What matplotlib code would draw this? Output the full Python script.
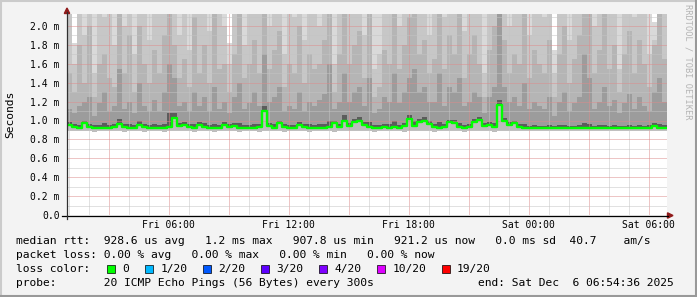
import numpy as np
import matplotlib
matplotlib.use('Agg')
import matplotlib.pyplot as plt
from matplotlib.patches import Polygon, Rectangle
from matplotlib.lines import Line2D

W, H = 697, 297

# 15 minute steps, hours counted from Fri 00:00
t_start = 0.91
t_step = 0.25

# median rtt (ms)
med = [0.95,0.93,0.925,0.975,0.93,0.925,0.92,0.925,0.925,0.93,
       0.96,0.935,0.925,0.925,0.95,0.93,0.925,0.925,0.92,0.925,
       0.93,1.03,0.94,0.955,0.93,0.925,0.95,0.93,0.925,0.92,
       0.925,0.95,0.93,0.945,0.925,0.925,0.92,0.925,0.93,1.10,
       0.94,0.925,0.97,0.93,0.925,0.925,0.95,0.93,0.925,0.92,
       0.925,0.925,0.93,0.97,0.935,1.0,0.94,0.98,1.0,0.95,
       0.93,0.925,0.925,0.93,0.925,0.93,0.925,0.94,1.02,0.94,
       0.98,1.0,0.96,0.93,0.925,0.93,0.98,0.975,0.93,0.925,
       0.93,0.98,1.01,0.94,0.95,0.93,1.16,1.0,0.95,0.97,
       0.93,0.925,0.92,0.92,0.918,0.92,0.92,0.918,0.92,0.92,
       0.92,0.918,0.92,0.922,0.92,0.918,0.92,0.92,0.918,0.92,
       0.92,0.918,0.92,0.92,0.918,0.92,0.922,0.945,0.925,0.92]

# fastest ping of each step
lo = [0.885,0.89,0.885,0.89,0.885,0.88,0.885,0.89,0.885,0.89,
      0.885,0.88,0.885,0.89,0.885,0.88,0.885,0.89,0.885,0.88,
      0.885,0.89,0.885,0.89,0.885,0.88,0.885,0.89,0.885,0.88,
      0.885,0.89,0.885,0.885,0.88,0.885,0.89,0.885,0.88,0.885,
      0.89,0.885,0.885,0.88,0.885,0.89,0.885,0.885,0.88,0.885,
      0.89,0.885,0.885,0.88,0.885,0.89,0.885,0.885,0.89,0.885,
      0.885,0.88,0.885,0.885,0.89,0.885,0.885,0.88,0.885,0.885,
      0.89,0.885,0.885,0.88,0.885,0.885,0.89,0.885,0.885,0.88,
      0.885,0.885,0.89,0.885,0.885,0.88,0.885,0.885,0.89,0.885,
      0.885,0.885,0.89,0.89,0.89,0.89,0.89,0.89,0.89,0.89,
      0.89,0.89,0.89,0.89,0.89,0.89,0.89,0.89,0.89,0.89,
      0.89,0.89,0.89,0.89,0.89,0.89,0.89,0.89,0.89,0.89]

# smoke: upper ping levels (ms), from darkest band to slowest ping
u0 = [0.98,0.96,0.955,1.0,0.96,0.95,0.955,0.97,0.955,0.96,
      1.02,0.965,0.96,0.955,0.99,0.96,0.955,0.96,0.95,0.965,
      1.08,1.08,0.97,0.985,0.96,0.96,0.98,0.97,0.955,0.96,
      0.955,0.98,0.96,0.975,0.97,0.955,0.95,0.965,0.96,1.15,
      0.97,0.96,1.0,0.96,0.955,0.955,0.98,0.96,0.96,0.95,
      0.96,0.96,1.0,1.0,0.965,1.06,0.97,1.02,1.04,0.98,
      0.98,0.955,0.955,0.965,0.96,1.0,0.955,0.97,1.06,1.0,
      1.02,1.04,0.99,0.96,0.98,0.96,1.01,1.01,0.97,0.955,
      0.96,1.02,1.04,0.97,0.98,0.97,1.22,1.03,0.98,1.0,
      0.96,0.96,0.945,0.95,0.945,0.945,0.95,0.94,0.95,0.955,
      0.945,0.945,0.95,0.97,0.96,0.945,0.95,0.955,0.945,0.95,
      0.94,0.945,0.95,0.945,0.95,0.945,0.95,0.975,0.965,0.95]
u1 = [1.12,1.08,1.15,1.2,1.25,1.05,1.18,1.3,1.1,1.15,
      1.55,1.12,1.2,1.08,1.4,1.15,1.1,1.22,1.1,1.3,
      1.6,1.45,1.15,1.2,1.1,1.3,1.15,1.25,1.1,1.35,
      1.12,1.2,1.08,1.25,1.4,1.12,1.18,1.3,1.15,1.7,
      1.2,1.25,1.35,1.1,1.15,1.12,1.3,1.1,1.2,1.15,
      1.22,1.28,1.6,1.12,1.2,1.5,1.2,1.3,1.35,1.15,
      1.45,1.08,1.12,1.25,1.2,1.5,1.18,1.3,1.45,1.55,
      1.3,1.35,1.2,1.2,1.5,1.15,1.35,1.3,1.45,1.15,
      1.2,1.3,1.25,1.08,1.25,1.35,2.4,1.35,1.2,1.25,
      1.15,1.4,1.12,1.2,1.15,1.12,1.25,1.05,1.2,1.3,
      1.1,1.18,1.25,1.7,1.45,1.12,1.2,1.35,1.15,1.22,
      1.08,1.18,1.28,1.12,1.25,1.15,1.1,1.3,1.45,1.2]
u2 = [1.5,1.3,1.8,1.4,2.0,1.25,1.6,1.7,1.45,1.35,
      2.4,1.5,1.9,1.3,2.0,1.6,1.4,1.75,1.5,1.9,
      2.4,1.8,1.45,1.65,1.35,2.1,1.5,1.8,1.4,2.4,
      1.55,1.6,1.3,1.7,2.2,1.45,1.6,1.85,1.5,2.4,
      1.55,1.75,1.95,1.35,1.6,1.5,2.0,1.4,1.7,1.55,
      1.6,1.85,2.4,1.3,1.7,2.4,1.6,1.8,1.95,1.45,
      2.4,1.25,1.35,1.75,1.6,2.4,1.55,1.8,2.1,2.4,
      1.7,1.85,1.5,1.65,2.4,1.55,1.9,1.7,2.4,1.45,
      1.7,1.9,1.6,1.25,1.75,2.0,2.4,1.85,1.5,1.7,
      1.6,2.4,1.45,1.75,1.6,1.5,1.85,1.25,1.7,2.0,
      1.4,1.65,1.9,2.4,2.4,1.5,1.75,2.3,1.55,1.8,
      1.3,1.7,1.95,1.5,1.85,1.6,1.35,1.8,2.4,1.65]
u3 = [2.4,1.6,2.4,1.9,2.4,1.5,2.4,2.1,2.4,1.8,
      2.4,2.0,2.4,1.7,2.4,2.4,1.85,2.4,2.2,2.4,
      2.4,2.4,1.9,2.4,1.75,2.4,2.3,2.4,1.95,2.4,
      2.4,2.0,1.6,2.4,2.4,1.8,2.4,2.2,2.4,2.4,
      2.0,2.4,2.4,1.7,2.4,2.1,2.4,1.85,2.4,2.4,
      2.0,2.4,2.4,1.6,2.4,2.4,2.2,2.4,2.4,1.9,
      2.4,1.55,1.7,2.4,2.4,2.4,2.0,2.4,2.4,2.4,
      2.3,2.4,1.9,2.4,2.4,2.1,2.4,2.4,2.4,1.95,
      2.4,2.4,2.2,1.5,2.4,2.4,2.4,2.4,2.0,2.4,
      2.4,2.4,1.9,2.4,2.4,2.1,2.4,1.5,2.4,2.4,
      1.85,2.4,2.4,2.4,2.4,2.0,2.4,2.4,2.2,2.4,
      1.55,2.4,2.4,2.1,2.4,2.4,1.7,1.85,2.4,2.2]
hi = [2.4,1.82,2.4,2.4,2.4,2.4,2.4,2.4,2.4,2.4,
      2.4,2.4,2.4,2.4,2.4,2.4,2.4,2.4,2.4,2.4,
      2.4,2.4,2.4,2.4,2.4,2.4,2.4,2.4,2.4,2.4,
      2.4,2.4,1.82,2.4,2.4,2.4,2.4,2.4,2.4,2.4,
      2.4,2.4,2.4,2.4,2.4,2.4,2.4,2.4,2.4,2.4,
      2.4,2.4,2.4,2.4,2.4,2.4,2.4,2.4,2.4,2.4,
      2.4,2.4,2.4,2.4,2.4,2.4,2.4,2.4,2.4,2.4,
      2.4,2.4,2.4,2.4,2.4,2.4,2.4,2.4,2.4,2.4,
      2.4,2.4,2.4,2.4,2.4,2.4,2.4,2.4,2.4,2.4,
      2.4,2.4,2.4,2.4,2.4,2.4,2.4,1.75,2.4,2.4,
      2.4,2.4,2.4,2.4,2.4,2.4,2.4,2.4,2.4,2.4,
      2.4,2.4,2.4,2.4,2.4,2.4,2.4,2.04,2.4,2.4]

yticks = [0.0, 0.2, 0.4, 0.6, 0.8, 1.0, 1.2, 1.4, 1.6, 1.8, 2.0]
ylabels = ['0.0', '0.2 m', '0.4 m', '0.6 m', '0.8 m', '1.0 m',
           '1.2 m', '1.4 m', '1.6 m', '1.8 m', '2.0 m']
xticks = [6, 12, 18, 24, 30]
xlabels = ['Fri 06:00', 'Fri 12:00', 'Fri 18:00', 'Sat 00:00', 'Sat 06:00']

legend_lines = [
    'median rtt:  928.6 us avg   1.2 ms max   907.8 us min   921.2 us now   0.0 ms sd  40.7    am/s',
    'packet loss: 0.00 % avg   0.00 % max   0.00 % min   0.00 % now',
    'loss color:',
    'probe:       20 ICMP Echo Pings (56 Bytes) every 300s',
]
end_text = 'end: Sat Dec  6 06:54:36 2025'
loss_labels = ['0', '1/20', '2/20', '3/20', '4/20', '10/20', '19/20']
loss_colors = ['#00ff00', '#00b8ff', '#0059ff', '#5e00ff', '#7e00ff', '#dd00ff', '#ff0000']

mono = 'DejaVu Sans Mono'
plt.rcParams['lines.scale_dashes'] = False


def F(x, y):
    return (x / W, 1 - y / H)


fig = plt.figure(figsize=(W / 100, H / 100), dpi=100, facecolor='#f3f3f3')

# 3d border
fig.add_artist(Line2D([0, 1], [1 - 0.5 / H, 1 - 0.5 / H], color='#cbcbcb', lw=1.5))
fig.add_artist(Line2D([0.5 / W, 0.5 / W], [0, 1], color='#cbcbcb', lw=1.5))
fig.add_artist(Line2D([0, 1], [1 / H, 1 / H], color='#999999', lw=1.5))
fig.add_artist(Line2D([1 - 1 / W, 1 - 1 / W], [0, 1], color='#999999', lw=1.5))

ax = fig.add_axes([67 / W, (H - 215) / H, 600 / W, (215 - 14) / H])
ax.set_facecolor('white')
for s in ax.spines.values():
    s.set_visible(False)

n = len(med)
t = t_start + t_step * np.arange(n + 1)


def ext(v):
    return np.append(v, v[-1])


m = ext(med)
for arr, col in [(hi, '#d9d9d9'), (u3, '#c7c7c7'), (u2, '#b5b5b5'),
                 (u1, '#9c9c9c'), (u0, '#5c5c5c')]:
    ax.fill_between(t, m, ext(arr), step='post', color=col, lw=0, zorder=1)
ax.fill_between(t, ext(lo), m, step='post', color='#bcbcbc', lw=0, zorder=1)

# grid, drawn over the smoke like rrdtool does
for hh in range(1, 31):
    if t_start < hh < t_start + 30:
        col = '#dd8c8c' if hh % 3 == 0 else '#c4c4c4'
        ax.axvline(hh, color=col, lw=0.72, dashes=(0.72, 0.72), snap=True, zorder=2)
for k in range(1, 22):
    col = '#dd8c8c' if k % 2 == 0 else '#c4c4c4'
    ax.axhline(k * 0.1, color=col, lw=0.72, dashes=(0.72, 0.72), snap=True, zorder=2)

ax.plot(t, m, drawstyle='steps-post', color='#00ff00', lw=1.7, zorder=3)

ax.set_xlim(t_start, t_start + 30)
ax.set_ylim(0, (215 - 14) / 94.5)
ax.set_yticks(yticks)
ax.set_yticklabels(ylabels, fontfamily=mono, fontsize=7)
ax.set_xticks(xticks)
ax.set_xticklabels(xlabels, fontfamily=mono, fontsize=7)
ax.tick_params(axis='y', length=0, pad=5.2)
ax.tick_params(axis='x', length=0, pad=3.4)

# axes with arrows
fig.add_artist(Line2D([62 / W, 668 / W], [F(0, 215.5)[1]] * 2, color='black', lw=0.9))
fig.add_artist(Line2D([F(67, 0)[0]] * 2, [F(0, 219)[1], F(0, 12)[1]], color='#303030', lw=0.9))
fig.add_artist(Polygon([F(64.3, 13.5), F(69.7, 13.5), F(67, 8)], closed=True,
                       color='#901a1a', transform=fig.transFigure))
fig.add_artist(Polygon([F(667.5, 212.8), F(667.5, 218.2), F(673, 215.5)], closed=True,
                       color='#901a1a', transform=fig.transFigure))

fig.text(*F(10.5, 114), 'Seconds', rotation=90, ha='center', va='center',
         fontfamily=mono, fontsize=8.1)
fig.text(*F(688, 4), 'RRDTOOL / TOBI OETIKER', rotation=270, ha='center', va='top',
         fontfamily=mono, fontsize=6.2, color='#b4b4b4')

# legend
line_y = [240.7, 255.2, 269.2, 283.5]
for txt, yy in zip(legend_lines, line_y):
    fig.text(*F(16, yy), txt, ha='left', va='center', fontfamily=mono, fontsize=8.1)
fig.text(*F(478, line_y[3]), end_text, ha='left', va='center', fontfamily=mono, fontsize=8.1)

bx = 107
for lab, col in zip(loss_labels, loss_colors):
    fig.add_artist(Rectangle(F(bx, 273.2), 8 / W, 8 / H, facecolor=col, edgecolor='black',
                             lw=0.5, transform=fig.transFigure))
    fig.text(*F(bx + 15.5, line_y[2]), lab, ha='left', va='center', fontfamily=mono, fontsize=8.1)
    bx = bx + 31 + len(lab) * 6.75

fig.savefig('out.png', dpi=100, facecolor=fig.get_facecolor())
